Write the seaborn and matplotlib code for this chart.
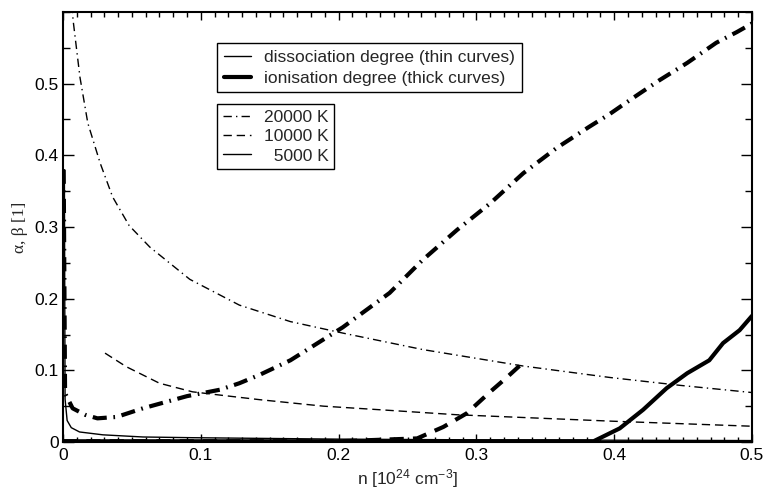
import numpy as np
import pandas as pd
import matplotlib
matplotlib.use("Agg")
import matplotlib.pyplot as plt
from matplotlib.lines import Line2D
from matplotlib.ticker import MultipleLocator, FixedLocator, FuncFormatter
import seaborn as sns

# ---------------- data ----------------
# dissociation degree (thin curves)
diss_20000_x = [0.0065, 0.0073, 0.0123, 0.018, 0.027, 0.036, 0.048, 0.063, 0.092, 0.128, 0.165,
                0.203, 0.261, 0.334, 0.397, 0.448, 0.5]
diss_20000_y = [0.61, 0.589, 0.509, 0.445, 0.389, 0.342, 0.302, 0.272, 0.227, 0.191, 0.168,
                0.152, 0.129, 0.106, 0.090, 0.079, 0.069]

diss_10000_x = [0.0305, 0.046, 0.07, 0.094, 0.116, 0.143, 0.189, 0.23, 0.286, 0.399, 0.5]
diss_10000_y = [0.124, 0.105, 0.082, 0.070, 0.065, 0.059, 0.050, 0.045, 0.038, 0.029, 0.022]

diss_5000_x = [0.001, 0.0015, 0.003, 0.006, 0.012, 0.029, 0.058, 0.094, 0.2, 0.3, 0.4, 0.5]
diss_5000_y = [0.38, 0.06, 0.03, 0.02, 0.014, 0.010, 0.007, 0.006, 0.004, 0.003, 0.0025, 0.002]

# ionisation degree (thick curves)
ion_20000_x = [0.0005, 0.0015, 0.007, 0.016, 0.025, 0.039, 0.058, 0.09, 0.114, 0.128, 0.143,
               0.165, 0.203, 0.237, 0.261, 0.286, 0.31, 0.334, 0.358, 0.382, 0.397, 0.406,
               0.419, 0.433, 0.453, 0.474, 0.489, 0.5]
ion_20000_y = [0.38, 0.068, 0.047, 0.038, 0.033, 0.035, 0.047, 0.064, 0.073, 0.082, 0.094,
               0.114, 0.16, 0.208, 0.254, 0.296, 0.333, 0.375, 0.41, 0.44, 0.458, 0.47,
               0.487, 0.505, 0.529, 0.557, 0.572, 0.584]

ion_10000_x = [0.0, 0.1, 0.2, 0.257, 0.276, 0.293, 0.31, 0.322, 0.334]
ion_10000_y = [0.001, 0.001, 0.001, 0.005, 0.021, 0.04, 0.07, 0.09, 0.111]

ion_5000_x = [0.0, 0.1, 0.2, 0.3, 0.385, 0.404, 0.421, 0.438, 0.453, 0.469, 0.479, 0.491, 0.5]
ion_5000_y = [0.001, 0.001, 0.001, 0.001, 0.001, 0.019, 0.045, 0.075, 0.096, 0.114, 0.138,
              0.156, 0.176]

x_ticks = [0.0, 0.1, 0.2, 0.3, 0.4, 0.5]
y_ticks = [0.0, 0.1, 0.2, 0.3, 0.4, 0.5]
temp_labels = ["20000 K", "10000 K", "  5000 K"]
kind_labels = ["dissociation degree (thin curves)", "ionisation degree (thick curves)"]

# ---------------- styling ----------------
sns.set_theme(style="ticks")
plt.rcParams["font.family"] = ["Liberation Sans", "DejaVu Sans"]
plt.rcParams["mathtext.default"] = "regular"

FS = 12.5
fig = plt.figure(figsize=(7.64, 4.92), dpi=100)
ax = fig.add_axes([63 / 764, 50 / 492, 689 / 764, 430 / 492])

thin_lw, thick_lw = 1.0, 3.0
ls_thin = {"20000": (0, (6, 3, 1, 3)), "10000": (0, (6, 3.5)), "5000": "-"}
ls_thick = {"20000": (0, (3.4, 1.6, 0.4, 1.6)), "10000": (0, (3.4, 2.2)), "5000": "-"}

def draw(xs, ys, lw, ls):
    df = pd.DataFrame({"x": xs, "y": ys})
    sns.lineplot(data=df, x="x", y="y", ax=ax, color="black", linewidth=lw,
                 linestyle=ls, sort=False, estimator=None, legend=False)

draw(diss_20000_x, diss_20000_y, thin_lw, ls_thin["20000"])
draw(diss_10000_x, diss_10000_y, thin_lw, ls_thin["10000"])
draw(diss_5000_x, diss_5000_y, thin_lw, ls_thin["5000"])
draw(ion_20000_x, ion_20000_y, thick_lw, ls_thick["20000"])
draw(ion_10000_x, ion_10000_y, thick_lw, ls_thick["10000"])
draw(ion_5000_x, ion_5000_y, thick_lw, ls_thick["5000"])

ax.set_xlim(0, 0.5)
ax.set_ylim(0, 0.6)
ax.xaxis.set_major_locator(FixedLocator(x_ticks))
ax.yaxis.set_major_locator(FixedLocator(y_ticks))
ax.xaxis.set_minor_locator(MultipleLocator(0.01))
ax.yaxis.set_minor_locator(MultipleLocator(0.05))
fmt = FuncFormatter(lambda v, p: "0" if abs(v) < 1e-9 else f"{v:.1f}")
ax.xaxis.set_major_formatter(fmt)
ax.yaxis.set_major_formatter(fmt)

ax.tick_params(axis="both", which="both", direction="in", top=True, right=True,
               colors="black", labelsize=FS, width=1.0)
ax.tick_params(axis="x", which="major", length=6, pad=4)
ax.tick_params(axis="x", which="minor", length=3.5)
ax.tick_params(axis="y", which="major", length=8, pad=3)
ax.tick_params(axis="y", which="minor", length=5)
for s in ax.spines.values():
    s.set_linewidth(1.5)
    s.set_color("black")

ax.set_xlabel(r"n [10$^{24}$ cm$^{-3}$]", fontsize=FS, labelpad=3)
ax.set_ylabel("α, β [1]", fontsize=FS, family=["Liberation Serif", "DejaVu Serif"],
              labelpad=5)

# legends
h1 = [Line2D([], [], color="black", lw=thin_lw),
      Line2D([], [], color="black", lw=thick_lw)]
leg1 = ax.legend(h1, kind_labels, loc="upper left",
                 bbox_to_anchor=((217 - 63) / 689, (442 - 43) / 430),
                 borderaxespad=0, fontsize=FS, frameon=True, fancybox=False,
                 handlelength=1.6, handletextpad=0.75, borderpad=0.38,
                 labelspacing=0.33)
leg1.get_frame().set_edgecolor("black")
leg1.get_frame().set_linewidth(1.0)
leg1.get_frame().set_alpha(1)
ax.add_artist(leg1)

h2 = [Line2D([], [], color="black", lw=thin_lw, linestyle=ls_thin["20000"]),
      Line2D([], [], color="black", lw=thin_lw, linestyle=ls_thin["10000"]),
      Line2D([], [], color="black", lw=thin_lw, linestyle=ls_thin["5000"])]
leg2 = ax.legend(h2, temp_labels, loc="upper left",
                 bbox_to_anchor=((217 - 63) / 689, (442 - 104) / 430),
                 borderaxespad=0, fontsize=FS, frameon=True, fancybox=False,
                 handlelength=1.6, handletextpad=0.75, borderpad=0.33,
                 labelspacing=0.24)
leg2.get_frame().set_edgecolor("black")
leg2.get_frame().set_linewidth(1.0)
leg2.get_frame().set_alpha(1)

fig.savefig("out.png", dpi=100)
